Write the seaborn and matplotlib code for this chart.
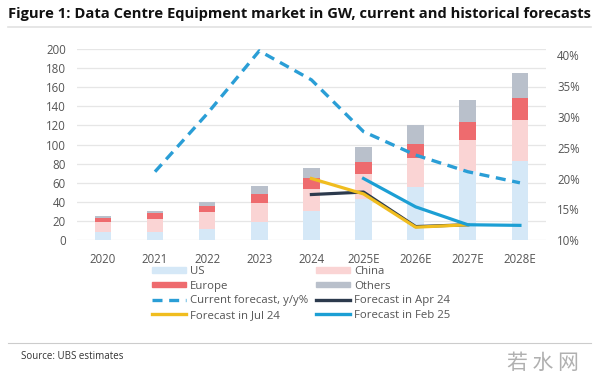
import numpy as np
import pandas as pd
import matplotlib
matplotlib.use("Agg")
import matplotlib.pyplot as plt
import seaborn as sns
from matplotlib.patches import Patch
from matplotlib.lines import Line2D

# Data (GW)
years = ["2020", "2021", "2022", "2023", "2024", "2025E", "2026E", "2027E", "2028E"]
us = [9, 9, 12, 19, 30, 43, 56, 72, 83]
china = [10, 13, 17, 20, 24, 26, 30, 33, 43]
europe = [4.5, 6.5, 7, 9.5, 11, 13, 15, 19, 23]
others = [1.5, 2, 3.5, 8, 11, 16, 19.5, 23, 26]

# y/y growth forecasts (%)
current_years = ["2021", "2022", "2023", "2024", "2025E", "2026E", "2027E", "2028E"]
current_fc = [21.1, 30.5, 40.7, 36.0, 27.6, 23.8, 21.1, 19.3]
apr24_years = ["2024", "2025E", "2026E", "2027E"]
apr24_fc = [17.4, 17.8, 12.2, 12.5]
jul24_years = ["2024", "2025E", "2026E", "2027E"]
jul24_fc = [20.0, 17.5, 12.1, 12.5]
feb25_years = ["2025E", "2026E", "2027E", "2028E"]
feb25_fc = [20.0, 15.4, 12.5, 12.4]

c_us = "#d5e8f7"
c_china = "#fad4d4"
c_europe = "#ee6b6e"
c_others = "#b9c0cb"
c_current = "#2a9ed6"
c_apr = "#2c3a4d"
c_jul = "#f0bd1f"
c_feb = "#1c9fd4"

plt.rcParams["font.family"] = ["Open Sans", "DejaVu Sans"]
grey = "#555555"

fig = plt.figure(figsize=(6, 3.8), dpi=100)
ax = fig.add_axes([0.128, 0.368, 0.782, 0.503])

df = pd.DataFrame({"year": years, "US": us, "China": china, "Europe": europe, "Others": others})
df["l1"] = df["US"]
df["l2"] = df["l1"] + df["China"]
df["l3"] = df["l2"] + df["Europe"]
df["l4"] = df["l3"] + df["Others"]

# stacked bars drawn tallest first
for col, c in [("l4", c_others), ("l3", c_europe), ("l2", c_china), ("l1", c_us)]:
    sns.barplot(data=df, x="year", y=col, color=c, width=0.32, saturation=1,
                ax=ax, order=years, zorder=2)

ax.set_ylim(0, 200)
ax.set_xlim(-0.5, 8.5)
ax.set_yticks(range(0, 201, 20))
ax.set_xlabel("")
ax.set_ylabel("")
ax.grid(axis="y", color="#e6e6e6", linewidth=0.9, zorder=0)
ax.set_axisbelow(True)
for s in ax.spines.values():
    s.set_visible(False)
ax.tick_params(axis="both", length=0, labelsize=8.3, labelcolor=grey)
ax.tick_params(axis="x", pad=9)
ax.tick_params(axis="y", pad=8)

ax2 = ax.twinx()
pos = {y: i for i, y in enumerate(years)}

def draw(yrs, vals, color, ls="-", lw=2.3):
    sns.lineplot(x=[pos[y] for y in yrs], y=vals, color=color, linestyle=ls,
                 linewidth=lw, ax=ax2, legend=False)

draw(apr24_years, apr24_fc, c_apr)
draw(jul24_years, jul24_fc, c_jul)
draw(feb25_years, feb25_fc, c_feb)
sns.lineplot(x=[pos[y] for y in current_years], y=current_fc, color=c_current,
             linewidth=2.4, dashes=False, ax=ax2, legend=False).lines[-1].set_dashes((3, 2))

ax2.set_ylim(10, 41)
ax2.set_xlim(-0.5, 8.5)
ax2.set_yticks(range(10, 41, 5))
ax2.set_yticklabels([f"{v}%" for v in range(10, 41, 5)])
ax2.set_ylabel("")
for s in ax2.spines.values():
    s.set_visible(False)
ax2.tick_params(axis="y", length=0, labelsize=8.3, labelcolor=grey, pad=8)

handles = [
    Patch(color=c_us), Patch(color=c_europe),
    Line2D([], [], color=c_current, lw=2.4, dashes=(3, 2)), Line2D([], [], color=c_jul, lw=2.4),
    Patch(color=c_china), Patch(color=c_others),
    Line2D([], [], color=c_apr, lw=2.4), Line2D([], [], color=c_feb, lw=2.4),
]
labels = ["US", "Europe", "Current forecast, y/y%", "Forecast in Jul 24",
          "China", "Others", "Forecast in Apr 24", "Forecast in Feb 25"]
leg = fig.legend(handles, labels, ncol=2, loc="upper left", bbox_to_anchor=(0.253, 0.3),
                 frameon=False, fontsize=8.2, handlelength=3.0, handleheight=0.4,
                 labelspacing=0.32, columnspacing=0.7, handletextpad=0.35,
                 labelcolor=grey, borderaxespad=0, borderpad=0)

fig.text(0.013, 0.962, "Figure 1: Data Centre Equipment market in GW, current and historical forecasts",
         fontsize=10.6, fontweight="bold", color="#111111", va="center")
fig.add_artist(Line2D([0.013, 0.985], [0.928, 0.928], color="#e2e2e2", lw=1.2))
fig.add_artist(Line2D([0.013, 0.985], [0.097, 0.097], color="#cccccc", lw=0.8))
fig.text(0.035, 0.062, "Source: UBS estimates", fontsize=7, color="#333333", va="center")
fig.text(0.905, 0.045, "若 水 网", fontsize=15, color="#b0b0b0", ha="center", va="center",
         family=["Noto Sans CJK SC", "DejaVu Sans"])

fig.savefig("out.png", dpi=100, facecolor="white")
